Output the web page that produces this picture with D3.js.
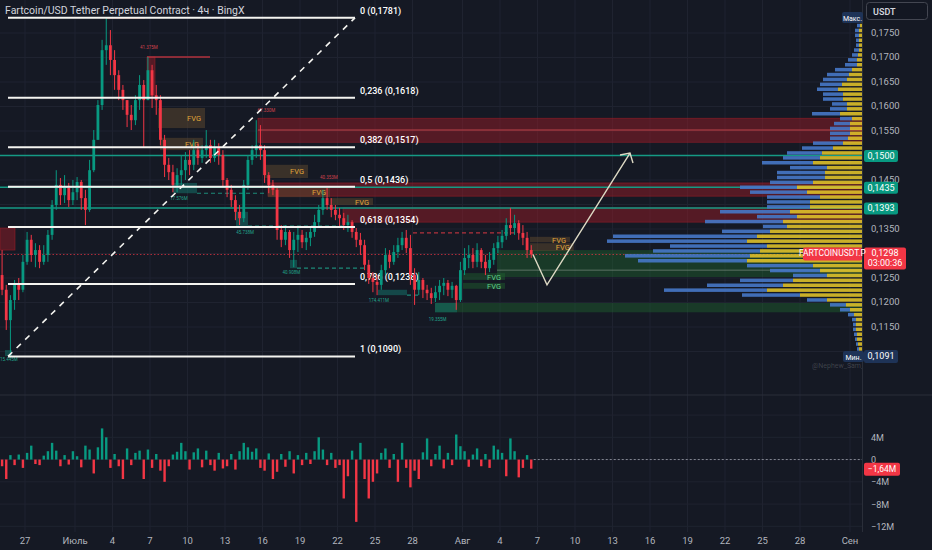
<!DOCTYPE html>
<html>
<head>
<meta charset="utf-8">
<script src="https://cdn.jsdelivr.net/npm/d3@7"></script>
<style>
  html, body { margin: 0; padding: 0; background: #151924; }
  svg { display: block; font-family: Roboto, 'Noto Sans', sans-serif; }
</style>
</head>
<body>
<div id="chart"></div>
<script>
// 8h candles, first one opens Jun 25 00:00
const OPEN0 = 0.1256
const CLOSE = [
  0.1226, 0.1164, 0.1205, 0.1236, 0.1226, 0.1283, 0.1328, 0.1297, 0.1307, 0.1283,
  0.1297, 0.1338, 0.1399, 0.1440, 0.1419, 0.1434, 0.1409, 0.1425, 0.1446, 0.1413,
  0.1389, 0.1470, 0.1532, 0.1603, 0.1715, 0.1725, 0.1695, 0.1664, 0.1634, 0.1613,
  0.1583, 0.1572, 0.1613, 0.1644, 0.1613, 0.1674, 0.1623, 0.1613, 0.1532, 0.1481,
  0.1466, 0.1440, 0.1460, 0.1470, 0.1491, 0.1481, 0.1511, 0.1495, 0.1511, 0.1521,
  0.1495, 0.1515, 0.1501, 0.1450, 0.1430, 0.1409, 0.1385, 0.1372, 0.1440, 0.1491,
  0.1511, 0.1521, 0.1511, 0.1460, 0.1440, 0.1430, 0.1348, 0.1328, 0.1344, 0.1307,
  0.1328, 0.1338, 0.1323, 0.1332, 0.1344, 0.1364, 0.1389, 0.1413, 0.1399, 0.1389,
  0.1379, 0.1372, 0.1358, 0.1364, 0.1344, 0.1328, 0.1317, 0.1277, 0.1250, 0.1242,
  0.1236, 0.1266, 0.1297, 0.1283, 0.1303, 0.1317, 0.1332, 0.1311, 0.1256, 0.1226,
  0.1246, 0.1226, 0.1219, 0.1209, 0.1221, 0.1234, 0.1240, 0.1226, 0.1234, 0.1205,
  0.1266, 0.1291, 0.1297, 0.1283, 0.1307, 0.1283, 0.1270, 0.1287, 0.1311, 0.1323,
  0.1336, 0.1358, 0.1352, 0.1362, 0.1342, 0.1332, 0.1307, 0.1298
]
const HIGH = [
  0.1307, 0.1236, 0.1215, 0.1246, 0.1250, 0.1297, 0.1344, 0.1338, 0.1321, 0.1317,
  0.1317, 0.1348, 0.1409, 0.1470, 0.1454, 0.1460, 0.1444, 0.1450, 0.1456, 0.1450,
  0.1430, 0.1491, 0.1552, 0.1613, 0.1736, 0.1781, 0.1756, 0.1715, 0.1674, 0.1644,
  0.1613, 0.1603, 0.1623, 0.1664, 0.1654, 0.1701, 0.1685, 0.1644, 0.1623, 0.1542,
  0.1495, 0.1481, 0.1474, 0.1501, 0.1507, 0.1511, 0.1532, 0.1525, 0.1521, 0.1552,
  0.1532, 0.1532, 0.1525, 0.1511, 0.1454, 0.1440, 0.1419, 0.1399, 0.1450, 0.1501,
  0.1521, 0.1572, 0.1562, 0.1521, 0.1466, 0.1450, 0.1434, 0.1358, 0.1358, 0.1348,
  0.1344, 0.1352, 0.1348, 0.1344, 0.1352, 0.1379, 0.1399, 0.1430, 0.1434, 0.1413,
  0.1399, 0.1393, 0.1383, 0.1379, 0.1368, 0.1352, 0.1342, 0.1328, 0.1287, 0.1262,
  0.1256, 0.1277, 0.1311, 0.1307, 0.1317, 0.1332, 0.1344, 0.1348, 0.1338, 0.1270,
  0.1262, 0.1250, 0.1236, 0.1230, 0.1234, 0.1246, 0.1250, 0.1246, 0.1242, 0.1236,
  0.1283, 0.1311, 0.1317, 0.1311, 0.1321, 0.1311, 0.1297, 0.1303, 0.1321, 0.1336,
  0.1348, 0.1372, 0.1393, 0.1379, 0.1368, 0.1358, 0.1344, 0.1317
]
const LOW = [
  0.1215, 0.1144, 0.1091, 0.1185, 0.1205, 0.1221, 0.1277, 0.1283, 0.1272, 0.1270,
  0.1277, 0.1283, 0.1328, 0.1389, 0.1399, 0.1403, 0.1395, 0.1399, 0.1409, 0.1389,
  0.1358, 0.1385, 0.1466, 0.1532, 0.1593, 0.1685, 0.1664, 0.1634, 0.1613, 0.1593,
  0.1558, 0.1552, 0.1562, 0.1593, 0.1517, 0.1613, 0.1597, 0.1583, 0.1521, 0.1456,
  0.1450, 0.1425, 0.1425, 0.1440, 0.1450, 0.1460, 0.1470, 0.1481, 0.1485, 0.1495,
  0.1485, 0.1487, 0.1481, 0.1436, 0.1415, 0.1395, 0.1368, 0.1358, 0.1364, 0.1430,
  0.1481, 0.1495, 0.1491, 0.1444, 0.1423, 0.1419, 0.1328, 0.1313, 0.1317, 0.1291,
  0.1272, 0.1303, 0.1311, 0.1307, 0.1315, 0.1334, 0.1352, 0.1379, 0.1389, 0.1374,
  0.1368, 0.1356, 0.1348, 0.1344, 0.1332, 0.1313, 0.1297, 0.1266, 0.1238, 0.1221,
  0.1215, 0.1226, 0.1256, 0.1270, 0.1277, 0.1291, 0.1307, 0.1301, 0.1236, 0.1195,
  0.1215, 0.1209, 0.1205, 0.1197, 0.1201, 0.1205, 0.1215, 0.1213, 0.1209, 0.1185,
  0.1201, 0.1256, 0.1270, 0.1270, 0.1272, 0.1270, 0.1256, 0.1262, 0.1277, 0.1301,
  0.1311, 0.1328, 0.1338, 0.1338, 0.1328, 0.1317, 0.1291, 0.1291
]
// volume delta, millions
const DELTA = [
  -1.2, -3.5, 0.8, -1.0, 0.9, -1.5, 1.2, 2.5, -0.8, -1.0,
  0.7, 1.5, 3.0, 1.6, -1.2, 0.8, -0.9, 1.5, 0.6, -1.4,
  2.5, 1.8, -2.5, 2.2, 5.6, 4.0, -1.5, 1.0, -1.2, -3.5,
  2.0, -1.0, 1.2, 1.6, -3.5, 1.8, -1.5, 1.0, -2.0, -4.0,
  -1.2, 0.9, 1.4, 3.0, 1.5, -1.8, 1.3, 2.0, -1.4, 1.6,
  -1.0, -2.0, 1.2, -1.6, -1.2, 1.0, -1.8, 1.5, 3.0, 2.2,
  1.4, 2.0, -1.5, -2.0, 1.1, -3.5, -2.2, 1.0, -1.3, 1.5,
  -2.5, 0.8, -1.0, 1.2, -0.8, 1.5, 4.0, 1.8, -1.0, 1.2,
  -1.5, -1.0, -7.0, -3.0, 1.6, -11.2, 3.0, -3.5, -7.0, -4.0,
  -2.5, 1.2, 2.0, -1.5, 1.0, -4.0, 3.0, -1.5, -5.0, -2.0,
  -3.5, 1.3, 3.8, -1.2, 1.0, 2.5, -1.6, 1.2, -1.0, 4.5,
  2.4, 1.5, -1.3, 0.9, 2.0, -1.2, 1.0, -1.5, 2.5, 1.8,
  1.2, -3.0, 3.8, 1.5, -3.2, -1.5, 0.8, -1.64
]

// volume profile, 0.001 rows from 0.1090 up
const PROFILE_BUY = [
  2, 3, 4, 5, 5, 6, 6, 6, 8, 12, 16, 35, 62, 95, 79, 69, 35, 42, 49, 115,
  112, 102, 95, 115, 105, 92, 75, 79, 65, 72, 52, 52, 42, 55, 65, 49, 37, 37, 35, 49,
  42, 40, 29, 19, 14, 12, 12, 12, 10, 22, 15, 15, 19, 19, 24, 20, 15, 13, 10, 5,
  5, 4, 3, 3, 3, 3, 3, 2, 2
]
const PROFILE_SELL = [
  1, 2, 2, 2, 3, 3, 3, 4, 6, 10, 16, 20, 58, 103, 76, 53, 34, 50, 66, 109,
  125, 107, 97, 140, 144, 48, 24, 78, 40, 70, 43, 43, 53, 57, 57, 43, 48, 48, 37, 51,
  37, 35, 31, 30, 18, 20, 20, 16, 12, 28, 17, 15, 20, 20, 21, 22, 24, 22, 17, 12,
  9, 6, 5, 3, 3, 4, 4, 3, 2
]

const PRICE_TICKS = [0.1100, 0.1150, 0.1200, 0.1250, 0.1300, 0.1350, 0.1400, 0.1450,
  0.1500, 0.1550, 0.1600, 0.1650, 0.1700, 0.1750]
const VOL_TICKS = [8, 4, 0, -4, -8, -12]
const VOL_LABELS = ['', '4M', '0', '−4M', '−8M', '−12M']
const TIME_TICKS = [-4, 0, 3, 6, 9, 12, 15, 18, 21, 24, 27, 31, 34, 37, 40, 43, 46, 49, 52, 55, 58, 62]
const TIME_LABELS = ['27', 'Июль', '4', '7', '10', '13', '16', '19', '22', '25', '28',
  'Авг', '4', '7', '10', '13', '16', '19', '22', '25', '28', 'Сен']

const FIB_LEVELS = ['0', '0,236', '0,382', '0,5', '0,618', '0,786', '1']
const FIB_PRICES = [0.1781, 0.1618, 0.1517, 0.1436, 0.1354, 0.1238, 0.1090]
const LEVEL_LINES = [0.1500, 0.1435, 0.1393]
const LAST_PRICE = 0.1298
const MIN_PRICE = 0.1091
const LAST_DELTA = -1.64

// zones: [startDay, endDay (null = to axis), top, bottom, kind, label]
const ZONES = [
  [-6, -4.8, 0.1352, 0.1307, 'red', ''],
  [5.76, 6.4, 0.1701, 0.1623, 'red', ''],
  [14.64, null, 0.1576, 0.1552, 'red', ''],
  [14.64, null, 0.1552, 0.1527, 'red', ''],
  [15.44, null, 0.1444, 0.1417, 'red', ''],
  [21.44, null, 0.1393, 0.1364, 'red', ''],
  [33.76, null, 0.1307, 0.1266, 'green', ''],
  [33.76, null, 0.1266, 0.1252, 'green', ''],
  [28.8, null, 0.1199, 0.1180, 'green', ''],
  [31.04, 34.4, 0.1260, 0.1246, 'green', 'FVG'],
  [31.04, 34.4, 0.1240, 0.1228, 'green', 'FVG'],
  [6.64, 10.4, 0.1597, 0.1556, 'brown', 'FVG'],
  [6.8, 10.24, 0.1536, 0.1511, 'brown', 'FVG'],
  [15.2, 18.64, 0.1481, 0.1454, 'brown', 'FVG'],
  [15.44, 20.4, 0.1434, 0.1415, 'brown', 'FVG'],
  [20.4, 23.84, 0.1413, 0.1399, 'brown', 'FVG'],
  [36.4, 39.6, 0.1334, 0.1323, 'brown', 'FVG'],
  [36.4, 39.9, 0.1321, 0.1305, 'brown', 'FVG'],
  [7.84, 9.76, 0.1444, 0.1423, 'teal', ''],
  [12.88, 13.84, 0.1385, 0.1356, 'teal', ''],
  [17.2, 17.76, 0.1287, 0.1270, 'teal', ''],
  [24.24, 26.56, 0.1226, 0.1215, 'teal', ''],
  [28.8, 30.56, 0.1199, 0.1180, 'teal', ''],
  [-5.6, -5.04, 0.1103, 0.1091, 'teal', '']
]
// dashed level lines from swing points: [startDay, endDay, price, colour]
const SWING_LINES = [
  [9.76, 15.2, 0.1423, 'teal'], [13.84, 21.6, 0.1356, 'teal'],
  [17.76, 23.2, 0.1270, 'teal'], [26.56, 27.6, 0.1215, 'teal'],
  [27.04, 35.6, 0.1342, 'red']
]
const SWING_TEXT = [
  [-6, 0.1080, '15.445M', 'teal'], [7.6, 0.1410, '17.576M', 'teal'],
  [12.9, 0.1340, '45.738M', 'teal'], [16.6, 0.1258, '40.908M', 'teal'],
  [23.5, 0.1202, '174.411M', 'teal'], [28.3, 0.1163, '19.355M', 'teal'],
  [5.2, 0.1717, '41.375M', 'red'], [14.6, 0.1588, '67.330M', 'red'],
  [19.6, 0.1453, '40.353M', 'red']
]
// projected path: [day, price]
const PROJECTION = [[36.64, 0.1298], [37.76, 0.1236], [44.4, 0.1505]]

const COLORS = {
  bg: '#151924',
  grid: '#1f2330',
  up: '#089981',
  down: '#f23645',
  text: '#b2b5be',
  red: 'rgba(150, 28, 38, 0.5)',
  green: 'rgba(30, 105, 48, 0.42)',
  brown: 'rgba(90, 70, 45, 0.55)',
  teal: 'rgba(20, 120, 110, 0.5)',
  buy: 'rgba(226, 196, 42, 0.88)',
  sell: 'rgba(70, 120, 200, 0.9)'
}

const W = 932
const H = 550
const PANE_R = 862
const PANE_B = 393

const jul1 = new Date(2025, 6, 1)
const day = (d) => new Date(jul1.getTime() + d * 864e5)
const fmt = (p) => p.toFixed(4).replace('.', ',')

const x = d3.scaleTime().domain([day(-6), day(63)]).range([0, 862.5])
const y = d3.scaleLinear().domain([0.1100, 0.1750]).range([351.5, 33])
const yv = d3.scaleLinear().domain([-12, 4]).range([526.3, 437.3])
const xp = d3.scaleLinear().domain([0, 260]).range([0, 260])

const svg = d3.select('#chart').append('svg')
  .attr('width', W)
  .attr('height', H)

svg.append('rect').attr('width', W).attr('height', H).attr('fill', COLORS.bg)

svg.append('clipPath').attr('id', 'main')
  .append('rect').attr('width', PANE_R).attr('height', PANE_B)

// grid
const grid = svg.append('g')
grid.selectAll('.vg').data(TIME_TICKS).enter().append('line')
  .attr('x1', (d) => x(day(d))).attr('x2', (d) => x(day(d)))
  .attr('y1', 0).attr('y2', 532)
  .attr('stroke', COLORS.grid)
grid.selectAll('.hg').data(PRICE_TICKS).enter().append('line')
  .attr('x1', 0).attr('x2', PANE_R)
  .attr('y1', (d) => y(d)).attr('y2', (d) => y(d))
  .attr('stroke', COLORS.grid)
grid.selectAll('.vhg').data(VOL_TICKS).enter().append('line')
  .attr('x1', 0).attr('x2', PANE_R)
  .attr('y1', (d) => yv(d)).attr('y2', (d) => yv(d))
  .attr('stroke', COLORS.grid)

svg.append('line').attr('x1', 0).attr('x2', W).attr('y1', 395).attr('y2', 395)
  .attr('stroke', '#2a2e39')
svg.append('line').attr('x1', PANE_R + 0.5).attr('x2', PANE_R + 0.5).attr('y1', 0).attr('y2', 532)
  .attr('stroke', '#2a2e39')

const main = svg.append('g').attr('clip-path', 'url(#main)')

// zones
const zoneX2 = (z) => z[1] === null ? PANE_R : x(day(z[1]))
main.selectAll('.zone').data(ZONES).enter().append('rect')
  .attr('x', (d) => x(day(d[0])))
  .attr('y', (d) => y(d[2]))
  .attr('width', (d) => zoneX2(d) - x(day(d[0])))
  .attr('height', (d) => y(d[3]) - y(d[2]))
  .attr('fill', (d) => COLORS[d[4]])
  .attr('stroke', (d) => d[4] === 'red' ? 'rgba(170,30,40,0.6)' : 'none')
  .attr('stroke-width', 0.8)
main.selectAll('.zlab').data(ZONES.filter((d) => d[5])).enter().append('text')
  .attr('x', (d) => zoneX2(d) - 4)
  .attr('y', (d) => (y(d[2]) + y(d[3])) / 2 + 3)
  .attr('text-anchor', 'end')
  .attr('font-size', 7.5)
  .attr('fill', (d) => d[4] === 'green' ? '#5fd08a' : '#e0a83a')
  .text((d) => d[5])

// red high line and mid lines
main.append('line')
  .attr('x1', x(day(2.56))).attr('x2', x(day(5.6)))
  .attr('y1', y(0.1781)).attr('y2', y(0.1781))
  .attr('stroke', '#c0443a').attr('stroke-width', 1.5)
main.append('line')
  .attr('x1', x(day(5.76))).attr('x2', x(day(10.8)))
  .attr('y1', y(0.1701)).attr('y2', y(0.1701))
  .attr('stroke', '#b2323c').attr('stroke-width', 1.5)
main.append('line')
  .attr('x1', x(day(14.64))).attr('x2', PANE_R)
  .attr('y1', y(0.1552)).attr('y2', y(0.1552))
  .attr('stroke', 'rgba(200,120,120,0.45)')
main.append('line')
  .attr('x1', x(day(33.76))).attr('x2', PANE_R)
  .attr('y1', y(0.1266)).attr('y2', y(0.1266))
  .attr('stroke', 'rgba(160,170,160,0.5)')

main.selectAll('.swing').data(SWING_LINES).enter().append('line')
  .attr('x1', (d) => x(day(d[0]))).attr('x2', (d) => x(day(d[1])))
  .attr('y1', (d) => y(d[2])).attr('y2', (d) => y(d[2]))
  .attr('stroke', (d) => d[3] === 'red' ? '#b2323c' : '#1d8a78')
  .attr('stroke-dasharray', '4,3')
  .attr('stroke-width', 1.2)
main.selectAll('.stext').data(SWING_TEXT).enter().append('text')
  .attr('x', (d) => x(day(d[0])))
  .attr('y', (d) => y(d[1]))
  .attr('font-size', 4.5)
  .attr('fill', (d) => d[3] === 'red' ? '#d0424c' : '#22a48c')
  .text((d) => d[2])

// current price
main.append('line')
  .attr('x1', 0).attr('x2', PANE_R)
  .attr('y1', y(LAST_PRICE)).attr('y2', y(LAST_PRICE))
  .attr('stroke', 'rgba(242,54,69,0.7)')
  .attr('stroke-dasharray', '1.5,2')

// teal levels
main.selectAll('.lvl').data(LEVEL_LINES).enter().append('line')
  .attr('x1', 0).attr('x2', PANE_R)
  .attr('y1', (d) => y(d)).attr('y2', (d) => y(d))
  .attr('stroke', '#159a84').attr('stroke-width', 1.5)

// volume profile
const rowH = y(0.1090) - y(0.1100)
const profile = main.append('g')
profile.selectAll('.sell').data(PROFILE_SELL).enter().append('rect')
  .attr('x', (d, i) => PANE_R - xp(PROFILE_BUY[i]) - xp(d))
  .attr('y', (d, i) => y(0.1100 + i * 0.001) + 0.6)
  .attr('width', (d) => xp(d))
  .attr('height', rowH - 1.4)
  .attr('fill', COLORS.sell)
profile.selectAll('.buy').data(PROFILE_BUY).enter().append('rect')
  .attr('x', (d) => PANE_R - xp(d))
  .attr('y', (d, i) => y(0.1100 + i * 0.001) + 0.6)
  .attr('width', (d) => xp(d))
  .attr('height', rowH - 1.4)
  .attr('fill', COLORS.buy)

// fib labels
const fibX1 = x(day(-5.36))
const fibX2 = x(day(22.4))
main.selectAll('.flab').data(FIB_PRICES).enter().append('text')
  .attr('x', fibX2 + 5)
  .attr('y', (d) => y(d) - 4)
  .attr('font-size', 9)
  .attr('font-weight', 500)
  .attr('fill', '#ffffff')
  .text((d, i) => `${FIB_LEVELS[i]} (${fmt(d)})`)

// candles
const candles = CLOSE.map((c, i) => ({
  t: day(-6 + i / 3 + 1 / 6),
  o: i === 0 ? OPEN0 : CLOSE[i - 1],
  c,
  h: HIGH[i],
  l: LOW[i],
  v: DELTA[i]
}))

const cg = main.selectAll('.candle').data(candles).enter().append('g')
  .attr('transform', (d) => `translate(${x(d.t)}, 0)`)
cg.append('line')
  .attr('y1', (d) => y(d.h)).attr('y2', (d) => y(d.l))
  .attr('stroke', (d) => d.c >= d.o ? COLORS.up : COLORS.down)
cg.append('rect')
  .attr('x', -1.4)
  .attr('width', 2.8)
  .attr('y', (d) => y(Math.max(d.o, d.c)))
  .attr('height', (d) => Math.max(1, Math.abs(y(d.o) - y(d.c))))
  .attr('fill', (d) => d.c >= d.o ? COLORS.up : COLORS.down)

// fib lines + diagonal
main.selectAll('.fib').data(FIB_PRICES).enter().append('line')
  .attr('x1', fibX1).attr('x2', fibX2)
  .attr('y1', (d) => y(d)).attr('y2', (d) => y(d))
  .attr('stroke', '#f4f4f0').attr('stroke-width', 2)
main.append('line')
  .attr('x1', fibX1).attr('y1', y(0.1090))
  .attr('x2', fibX2).attr('y2', y(0.1781))
  .attr('stroke', '#f4f4f0').attr('stroke-width', 1.6)
  .attr('stroke-dasharray', '6,6')

// projection
main.append('path')
  .datum(PROJECTION)
  .attr('d', d3.line().x((d) => x(day(d[0]))).y((d) => y(d[1])))
  .attr('fill', 'none')
  .attr('stroke', '#ddd9c4').attr('stroke-width', 1.4)
const tip = PROJECTION[2]
const tx = x(day(tip[0]))
const ty = y(tip[1])
main.append('path')
  .attr('d', `M${tx - 10},${ty + 2} L${tx},${ty} L${tx + 3},${ty + 10}`)
  .attr('fill', 'none')
  .attr('stroke', '#ddd9c4').attr('stroke-width', 1.4)

main.append('text')
  .attr('x', 812).attr('y', 368)
  .attr('font-size', 7).attr('fill', 'rgba(255,255,255,0.18)')
  .text('@Nephew_Sam_')

// volume delta pane
svg.append('g').selectAll('rect').data(candles).enter().append('rect')
  .attr('x', (d) => x(d.t) - 1.2)
  .attr('width', 2.4)
  .attr('y', (d) => yv(Math.max(0, d.v)))
  .attr('height', (d) => Math.abs(yv(d.v) - yv(0)))
  .attr('fill', (d) => d.v >= 0 ? COLORS.up : COLORS.down)
svg.append('line')
  .attr('x1', x(day(36.7))).attr('x2', PANE_R)
  .attr('y1', yv(0)).attr('y2', yv(0))
  .attr('stroke', '#868993').attr('stroke-dasharray', '2,2')

// title
svg.append('text')
  .attr('x', 5).attr('y', 14)
  .attr('font-size', 10.5)
  .attr('fill', '#d1d4dc')
  .text('Fartcoin/USD Tether Perpetual Contract · 4ч · BingX')

// price axis: tick labels sitting under a tag are covered, as on the original
const tagged = LEVEL_LINES.concat([LAST_PRICE, MIN_PRICE])
const freeTicks = PRICE_TICKS.filter((p) => tagged.every((t) => Math.abs(y(p) - y(t)) > 7))
const axis = svg.append('g')
axis.selectAll('.pt').data(freeTicks).enter().append('text')
  .attr('x', 871).attr('y', (d) => y(d) + 2.5)
  .attr('font-size', 9.5).attr('fill', COLORS.text)
  .text((d) => fmt(d))
axis.selectAll('.vt').data(VOL_TICKS).enter().append('text')
  .attr('x', 871).attr('y', (d) => yv(d) + 3.5)
  .attr('font-size', 9).attr('fill', COLORS.text)
  .text((d, i) => VOL_LABELS[i])
axis.selectAll('.tt').data(TIME_TICKS).enter().append('text')
  .attr('x', (d) => x(day(d))).attr('y', 544)
  .attr('text-anchor', 'middle')
  .attr('font-size', 9.5).attr('fill', COLORS.text)
  .text((d, i) => TIME_LABELS[i])

function tag (px, py, w, h, fill, lines, size) {
  const g = svg.append('g')
  g.append('rect').attr('x', px).attr('y', py).attr('width', w).attr('height', h)
    .attr('rx', 2).attr('fill', fill)
  lines.forEach((t, i) => {
    g.append('text')
      .attr('x', px + w / 2).attr('y', py + 9 + i * 10)
      .attr('text-anchor', 'middle')
      .attr('font-size', size || 9).attr('fill', '#ffffff')
      .text(t)
  })
}

LEVEL_LINES.forEach((p) => tag(864, y(p) - 5.5, 34, 12, '#089981', [fmt(p)]))
tag(864, y(LAST_PRICE) - 7, 42, 22, '#f23645', [fmt(LAST_PRICE), '03:00:36'])
tag(803, y(LAST_PRICE) - 7, 59, 13, '#f23645', ['FARTCOINUSDT.P'], 8.5)
tag(842, 12, 21, 11, '#1e3357', ['Макс.'], 7)
tag(843, 351, 21, 11, '#1e3357', ['Мин.'], 7)
tag(864, 350, 34, 13, '#1e3357', [fmt(MIN_PRICE)])
tag(864, yv(LAST_DELTA) - 6, 36, 13, '#f23645', ['−1,64M'], 8.5)

svg.append('rect')
  .attr('x', 866.5).attr('y', 2.5).attr('width', 61).attr('height', 17)
  .attr('rx', 3).attr('fill', '#131722').attr('stroke', '#434651')
svg.append('text')
  .attr('x', 873).attr('y', 14.5)
  .attr('font-size', 9).attr('font-weight', 600).attr('fill', '#d1d4dc')
  .text('USDT')
</script>
</body>
</html>
